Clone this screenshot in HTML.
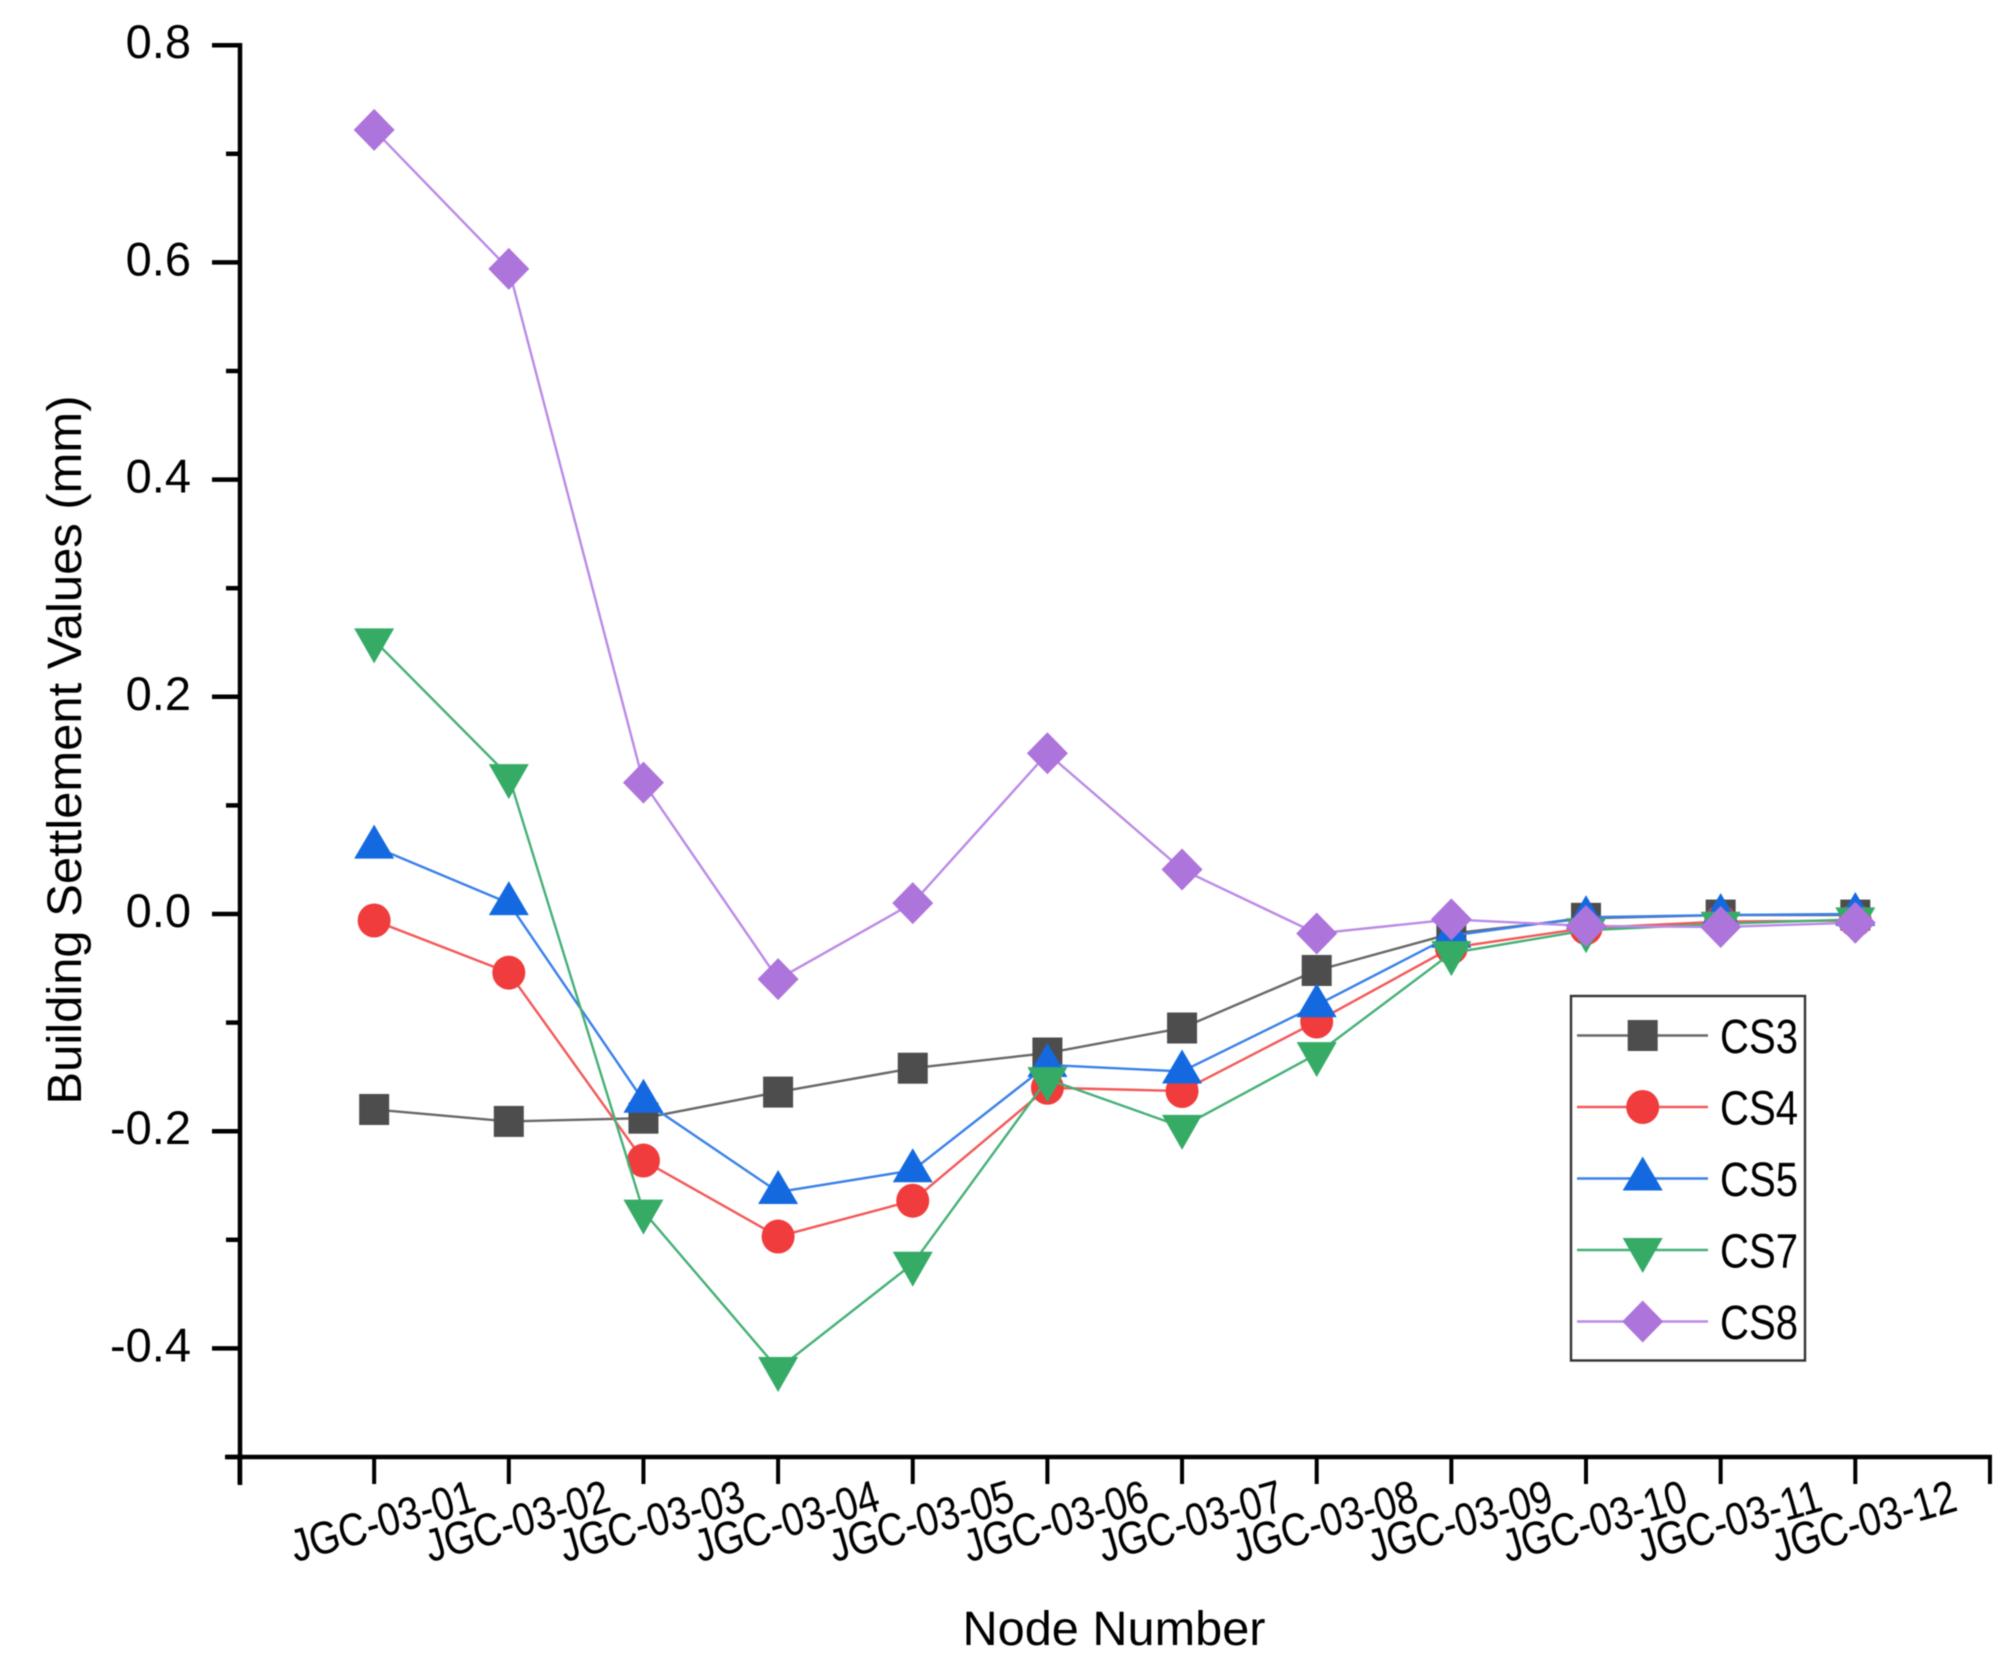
<!DOCTYPE html>
<html lang="en">
<head>
<meta charset="utf-8">
<title>Building Settlement Values by Node</title>
<style>
html,body{margin:0;padding:0;background:#fff;width:2015px;height:1663px;overflow:hidden}
svg{display:block;filter:blur(0.5px)}
text{font-family:"Liberation Sans",sans-serif;fill:#000}
</style>
</head>
<body>
<svg id="chart" xmlns="http://www.w3.org/2000/svg" width="2015" height="1663" viewBox="0 0 2015 1663">
  <rect x="0" y="0" width="2015" height="1663" fill="#ffffff"/>
</svg>
<script>
const categories = ['JGC-03-01','JGC-03-02','JGC-03-03','JGC-03-04','JGC-03-05','JGC-03-06','JGC-03-07','JGC-03-08','JGC-03-09','JGC-03-10','JGC-03-11','JGC-03-12'];
const yTickLabels = ['0.8','0.6','0.4','0.2','0.0','-0.2','-0.4'];
const yTickValues = [0.8,0.6,0.4,0.2,0,-0.2,-0.4];
const yMinorValues = [0.7,0.5,0.3,0.1,-0.1,-0.3,-0.5];
const xAxisTitle = 'Node Number';
const yAxisTitle = 'Building Settlement Values (mm)';
const seriesNames = ['CS3','CS4','CS5','CS7','CS8'];
const cs3 = [-0.180,-0.191,-0.188,-0.164,-0.142,-0.128,-0.105,-0.052,-0.018,-0.004,-0.001,-0.001];
const cs4 = [-0.006,-0.054,-0.227,-0.297,-0.264,-0.160,-0.163,-0.099,-0.031,-0.013,-0.007,-0.006];
const cs5 = [0.062,0.010,-0.172,-0.256,-0.236,-0.139,-0.145,-0.084,-0.020,-0.003,-0.001,0.000];
const cs7 = [0.252,0.127,-0.274,-0.419,-0.322,-0.152,-0.196,-0.129,-0.036,-0.015,-0.009,-0.005];
const cs8 = [0.722,0.594,0.121,-0.060,0.010,0.148,0.041,-0.018,-0.005,-0.011,-0.012,-0.008];

const NS = 'http://www.w3.org/2000/svg';
const svg = document.getElementById('chart');

function xScale(i) { return 239.5 + (i + 1) * 134.65; }
function yScale(v) { return 914 - v * 1086; }

function make(tag, parent, attrs) {
  const el = document.createElementNS(NS, tag);
  for (const k in attrs) el.setAttribute(k, attrs[k]);
  parent.appendChild(el);
  return el;
}

function drawMarker(parent, kind, x, y, color) {
  let el;
  if (kind === 'square') {
    el = make('rect', parent, {x: x - 15, y: y - 15.5, width: 30, height: 31, fill: color});
  } else if (kind === 'circle') {
    el = make('ellipse', parent, {cx: x, cy: y, rx: 16.5, ry: 17, fill: color});
  } else if (kind === 'up') {
    el = make('polygon', parent, {points: `${x},${y - 22} ${x + 20},${y + 12} ${x - 20},${y + 12}`, fill: color});
  } else if (kind === 'down') {
    el = make('polygon', parent, {points: `${x - 20},${y - 12} ${x + 20},${y - 12} ${x},${y + 23}`, fill: color});
  } else {
    el = make('polygon', parent, {points: `${x},${y - 21} ${x + 20.5},${y} ${x},${y + 21} ${x - 20.5},${y}`, fill: color});
  }
  return el;
}

const seriesValues = [cs3, cs4, cs5, cs7, cs8];
const markerKinds = ['square','circle','up','down','diamond'];
const markerColors = ['#4d4d4d','#f03c3c','#1569e0','#35ab66','#ad74db'];
const lineColors = ['#686868','#f45858','#3a80ea','#45b077','#bb8ae6'];

/* axes */
const axes = make('g', svg, {});



const yAxisLine = make('line', axes, {x1: 240, y1: 43, x2: 240, y2: 1485, stroke: '#000', 'stroke-width': 4.5});



const xAxisLine = make('line', axes, {x1: 225, y1: 1457, x2: 1992, y2: 1457, stroke: '#000', 'stroke-width': 4.5});



yTickValues.forEach(function (v, i) {
  const y = yScale(v);
  const tick = make('line', axes, {x1: 212, y1: y, x2: 240, y2: y, stroke: '#000', 'stroke-width': 4.5});
  
  
  const label = make('text', axes, {x: 191, y: y + 13, 'text-anchor': 'end', 'font-size': 47});
  
  
  label.textContent = yTickLabels[i];
});

yMinorValues.forEach(function (v) {
  const y = yScale(v);
  const tick = make('line', axes, {x1: 226, y1: y, x2: 240, y2: y, stroke: '#000', 'stroke-width': 4.5});
  
  
});

for (let i = -1; i <= categories.length; i++) {
  const x = xScale(i);
  const tick = make('line', axes, {x1: x, y1: 1457, x2: x, y2: 1484, stroke: '#000', 'stroke-width': 4});
  
  
}

categories.forEach(function (c, i) {
  const x = xScale(i) + 104;
  const label = make('text', axes, {
    x: x, y: 1510, 'text-anchor': 'end', 'font-size': 46,
    textLength: 190, lengthAdjust: 'spacingAndGlyphs',
    transform: `rotate(-16 ${x} 1510)`
  });
  
  
  label.textContent = c;
});

const yTitle = make('text', axes, {
  x: 0, y: 0, 'text-anchor': 'middle', 'font-size': 48,
  textLength: 709, lengthAdjust: 'spacingAndGlyphs',
  transform: 'translate(81 750) rotate(-90)'
});


yTitle.textContent = yAxisTitle;

const xTitle = make('text', axes, {
  x: 1114, y: 1645, 'text-anchor': 'middle', 'font-size': 48,
  textLength: 303, lengthAdjust: 'spacingAndGlyphs'
});


xTitle.textContent = xAxisTitle;

/* series */
seriesNames.forEach(function (name, s) {
  const g = make('g', svg, {});
  
  
  const values = seriesValues[s];
  const pts = values.map(function (v, i) { return xScale(i) + ',' + yScale(v); }).join(' ');
  const line = make('polyline', g, {points: pts, fill: 'none', stroke: lineColors[s], 'stroke-width': 2.4, 'stroke-linejoin': 'round'});
  
  
  values.forEach(function (v, i) {
    const m = drawMarker(g, markerKinds[s], xScale(i), yScale(v), markerColors[s]);
    
    
  });
});

/* legend */
const legend = make('g', svg, {});



const legendBox = make('rect', legend, {x: 1571, y: 996, width: 234, height: 364.5, fill: '#fff', stroke: '#333', 'stroke-width': 2.4});



seriesNames.forEach(function (name, s) {
  const y = 1035.5 + s * 71.5;
  const row = make('g', legend, {});
  
  
  const sample = make('line', row, {x1: 1577, y1: y, x2: 1708, y2: y, stroke: lineColors[s], 'stroke-width': 2.4});
  
  
  const m = drawMarker(row, markerKinds[s], 1642.7, y, markerColors[s]);
  
  
  const t = make('text', row, {x: 1720, y: y + 17.5, 'font-size': 48, textLength: 78, lengthAdjust: 'spacingAndGlyphs'});
  
  
  t.textContent = name;
});
</script>
</body>
</html>
